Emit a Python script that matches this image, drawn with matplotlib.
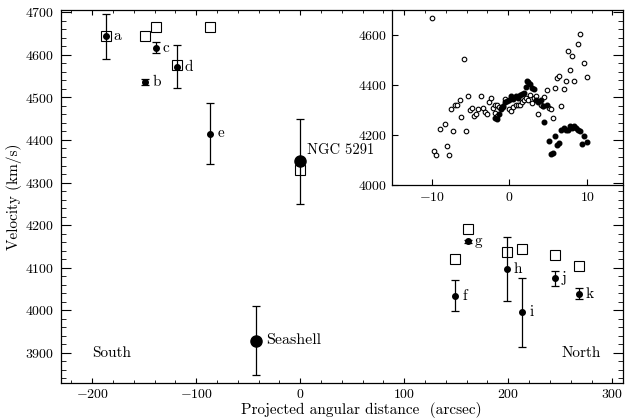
import numpy as np
import matplotlib.pyplot as plt
from matplotlib.ticker import MultipleLocator

plt.rcParams['font.family'] = 'serif'
plt.rcParams['font.serif'] = ['cmr10', 'DejaVu Serif']
plt.rcParams['mathtext.fontset'] = 'cm'
plt.rcParams['axes.formatter.use_mathtext'] = True

# Main panel: HI / optical velocities along the ring
labels = ['a', 'b', 'c', 'd', 'e', 'f', 'g', 'h', 'i', 'j', 'k']
dist = [-186.6, -149, -138.6, -118, -86.3, 149.2, 161, 198.3, 213.4, 244.5, 267.6]
vel = [4643, 4536, 4616, 4572, 4415, 4034, 4162, 4097, 3995, 4075, 4039]
vel_err = [52, 8, 13, 50, 71, 36, 3, 74, 81, 18, 13]

# open squares (HI velocities)
sq_dist = [-186.6, -149, -138.6, -118, -86.3, 0, 149.2, 161, 198.3, 213.4, 244.5, 267.6]
sq_vel = [4645, 4645, 4666, 4576, 4666, 4329, 4121, 4191, 4137, 4143, 4131, 4104]

# the two galaxies
gal_names = ['NGC 5291', 'Seashell']
gal_dist = [0, -42.3]
gal_vel = [4350, 3929]
gal_err = [100, 80]

# Inset: rotation curve of NGC 5291
open_x = [-9.98, -5.9, -9.67, -9.4, -8.9, -8.3, -8.05, -7.8, -7.55, -7.25, -7.0, -6.7,
          -6.4, -6.2, -5.6, -5.35, -5.05, -4.8, -4.5, -4.3, -4.0, -3.7, -3.45, -3.2,
          -2.95, -2.65, -2.4, -2.15, -1.9, -1.9, -1.6, -1.6, -1.3, -1.05, -0.8, -0.55,
          0.0, 0.26, 0.5, 0.78, 1.07, 1.33, 1.6, 1.85, 2.1, 2.4, 2.66, 2.9, 3.2, 3.45,
          3.7, 4.0, 4.25, 4.5, 4.8, 5.06, 5.3, 5.6, 5.87, 6.1, 6.4, 6.66, 6.95, 7.2,
          7.47, 7.75, 8.0, 8.27, 8.8, 9.1, 9.6, 9.9]
open_y = [4667, 4503, 4137, 4120, 4224, 4244, 4157, 4120, 4304, 4218, 4320, 4320,
          4339, 4272, 4218, 4356, 4299, 4307, 4276, 4284, 4304, 4356, 4307, 4294,
          4284, 4333, 4348, 4307, 4320, 4290, 4276, 4322, 4312, 4307, 4312, 4344,
          4304, 4296, 4312, 4320, 4322, 4322, 4333, 4339, 4348, 4339, 4359, 4328,
          4348, 4356, 4284, 4322, 4317, 4351, 4380, 4307, 4304, 4268, 4389, 4430,
          4436, 4315, 4384, 4416, 4535, 4461, 4515, 4416, 4566, 4604, 4487, 4433]

fill_x = [-1.9, -1.6, -1.3, -1.05, -0.8, -0.55, -0.3, 0.0, 0.26, 0.5, 0.78, 1.07,
          1.33, 1.6, 1.85, 2.1, 2.25, 2.4, 2.66, 2.9, 3.2, 3.45, 3.7, 4.0, 4.25,
          4.5, 4.8, 5.06, 5.3, 5.6, 5.87, 6.1, 6.4, 6.66, 6.95, 7.2, 7.47, 7.75,
          8.0, 8.27, 8.5, 8.8, 9.1, 9.35, 9.6, 9.9]
fill_y = [4268, 4266, 4285, 4304, 4315, 4331, 4336, 4341, 4356, 4343, 4356, 4348,
          4361, 4364, 4367, 4392, 4418, 4412, 4405, 4389, 4385, 4339, 4333, 4339,
          4317, 4254, 4322, 4177, 4126, 4129, 4195, 4162, 4169, 4219, 4228, 4219,
          4219, 4236, 4228, 4236, 4228, 4219, 4215, 4166, 4195, 4171]

fig = plt.figure(figsize=(6.28, 4.19), dpi=100)
ax = fig.add_axes([0.097, 0.0866, 0.8946, 0.8894])

ax.errorbar(dist, vel, yerr=vel_err, fmt='o', color='black', ms=4, lw=0.9,
            capsize=3, capthick=0.9)
ax.errorbar(gal_dist, gal_vel, yerr=gal_err, fmt='o', color='black', ms=8, lw=0.9,
            capsize=3, capthick=0.9)
ax.plot(sq_dist, sq_vel, 's', ms=7.5, mfc='none', mec='black', mew=0.8)

for lab, x, y in zip(labels, dist, vel):
    ax.annotate(lab, (x, y), xytext=(5, 0), textcoords='offset points',
                ha='left', va='center', fontsize=11)
ax.annotate(gal_names[0], (gal_dist[0], gal_vel[0]), xytext=(5, 8),
            textcoords='offset points', ha='left', va='center', fontsize=10.5)
ax.annotate(gal_names[1], (gal_dist[1], gal_vel[1]), xytext=(7, 0),
            textcoords='offset points', ha='left', va='center', fontsize=11.5)
ax.text(-181, 3899, 'South', ha='center', va='center', fontsize=11)
ax.text(270, 3899, 'North', ha='center', va='center', fontsize=11)

ax.set_xlim(-230, 310)
ax.set_ylim(3830, 4705)
ax.xaxis.set_major_locator(MultipleLocator(100))
ax.xaxis.set_minor_locator(MultipleLocator(20))
ax.yaxis.set_major_locator(MultipleLocator(100))
ax.yaxis.set_minor_locator(MultipleLocator(20))
ax.tick_params(which='both', direction='in', top=True, right=True, labelsize=10)
ax.tick_params(axis='x', which='major', length=3.5, pad=4)
ax.tick_params(axis='x', which='minor', length=2)
ax.tick_params(axis='y', which='major', length=7, pad=5)
ax.tick_params(axis='y', which='minor', length=3.5)
for s in ax.spines.values():
    s.set_linewidth(0.9)
ax.set_xlabel('Projected angular distance  (arcsec)', fontsize=11)
ax.xaxis.set_label_coords(0.534, -0.052)
ax.set_ylabel('Velocity (km/s)', fontsize=11)
ax.yaxis.set_label_coords(-0.07, 0.5)

# inset
ins = fig.add_axes([0.6247, 0.5585, 0.3669, 0.4175])
ins.patch.set_alpha(0)
ins.plot(open_x, open_y, 'o', ms=3.3, mfc='white', mec='black', mew=0.8)
ins.plot(fill_x, fill_y, 'o', ms=3.3, color='black')
ins.set_xlim(-15.05, 14.55)
ins.set_ylim(4000, 4700)
ins.xaxis.set_major_locator(MultipleLocator(10))
ins.yaxis.set_major_locator(MultipleLocator(200))
ins.tick_params(direction='in', labelsize=10, length=4, pad=4)
ins.spines['top'].set_visible(False)
ins.spines['right'].set_visible(False)
for s in ['left', 'bottom']:
    ins.spines[s].set_linewidth(0.9)

plt.savefig('out.png', dpi=100)
